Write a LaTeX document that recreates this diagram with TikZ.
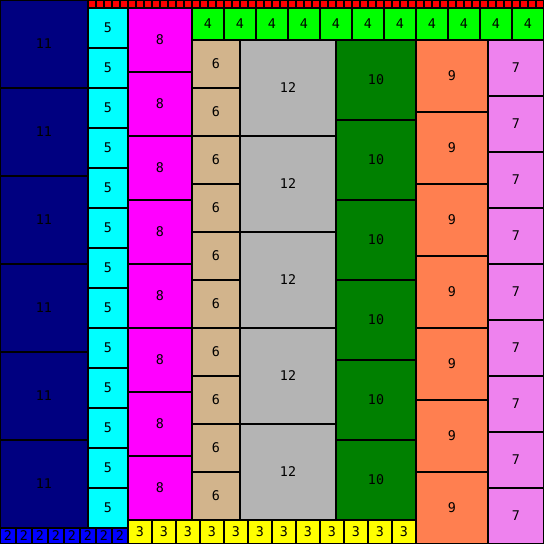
\documentclass[tikz,border=0pt]{standalone}
\usepackage{fontspec}
\setmonofont{DejaVu Sans Mono}

\definecolor{navy}{HTML}{000080}
\definecolor{tealcyan}{HTML}{00FFFF}
\definecolor{pinkmag}{HTML}{FF00FF}
\definecolor{limegreen}{HTML}{00FF00}
\definecolor{tanbrown}{HTML}{D2B48C}
\definecolor{midgray}{HTML}{B4B4B4}
\definecolor{darkgreen}{HTML}{008000}
\definecolor{coralred}{HTML}{FF7F50}
\definecolor{violetpink}{HTML}{EE82EE}
\definecolor{brightyellow}{HTML}{FFFF00}
\definecolor{brightred}{HTML}{FF0000}
\definecolor{brightblue}{HTML}{0000FF}

\tikzset{
  tile/.style 2 args={draw=black, line width=1.4pt, fill=#1,
    minimum size=#2*0.2cm, inner sep=0pt,
    font=\ttfamily\fontsize{9.5}{10}\selectfont}
}

\begin{document}
\begin{tikzpicture}[x=0.2cm,y=-0.2cm]
	\useasboundingbox (0,0) rectangle (68,68);
	% left column
	\foreach \i in {0,...,5}
		\node[tile={navy}{11}] (eleven\i) at (5.5,5.5+11*\i) {11};
	\foreach \i in {0,...,7}
		\node[tile={brightblue}{2}] (two\i) at (1+2*\i,67) {2};
	% top strip
	\foreach \i in {0,...,56}
		\node[tile={brightred}{1}] (one\i) at (11.5+\i,0.5) {};
	\foreach \i in {0,...,12}
		\node[tile={tealcyan}{5}] (five\i) at (13.5,3.5+5*\i) {5};
	\foreach \i in {0,...,7}
		\node[tile={pinkmag}{8}] (eight\i) at (20,5+8*\i) {8};
	\foreach \i in {0,...,11}
		\node[tile={brightyellow}{3}] (three\i) at (17.5+3*\i,66.5) {3};
	\foreach \i in {0,...,10}
		\node[tile={limegreen}{4}] (four\i) at (26+4*\i,3) {4};
	% inner columns
	\foreach \i in {0,...,9}
		\node[tile={tanbrown}{6}] (six\i) at (27,8+6*\i) {6};
	\foreach \i in {0,...,4}
		\node[tile={midgray}{12}] (twelve\i) at (36,11+12*\i) {12};
	\foreach \i in {0,...,5}
		\node[tile={darkgreen}{10}] (ten\i) at (47,10+10*\i) {10};
	\foreach \i in {0,...,6}
		\node[tile={coralred}{9}] (nine\i) at (56.5,9.5+9*\i) {9};
	\foreach \i in {0,...,8}
		\node[tile={violetpink}{7}] (seven\i) at (64.5,8.5+7*\i) {7};
\end{tikzpicture}
\end{document}
